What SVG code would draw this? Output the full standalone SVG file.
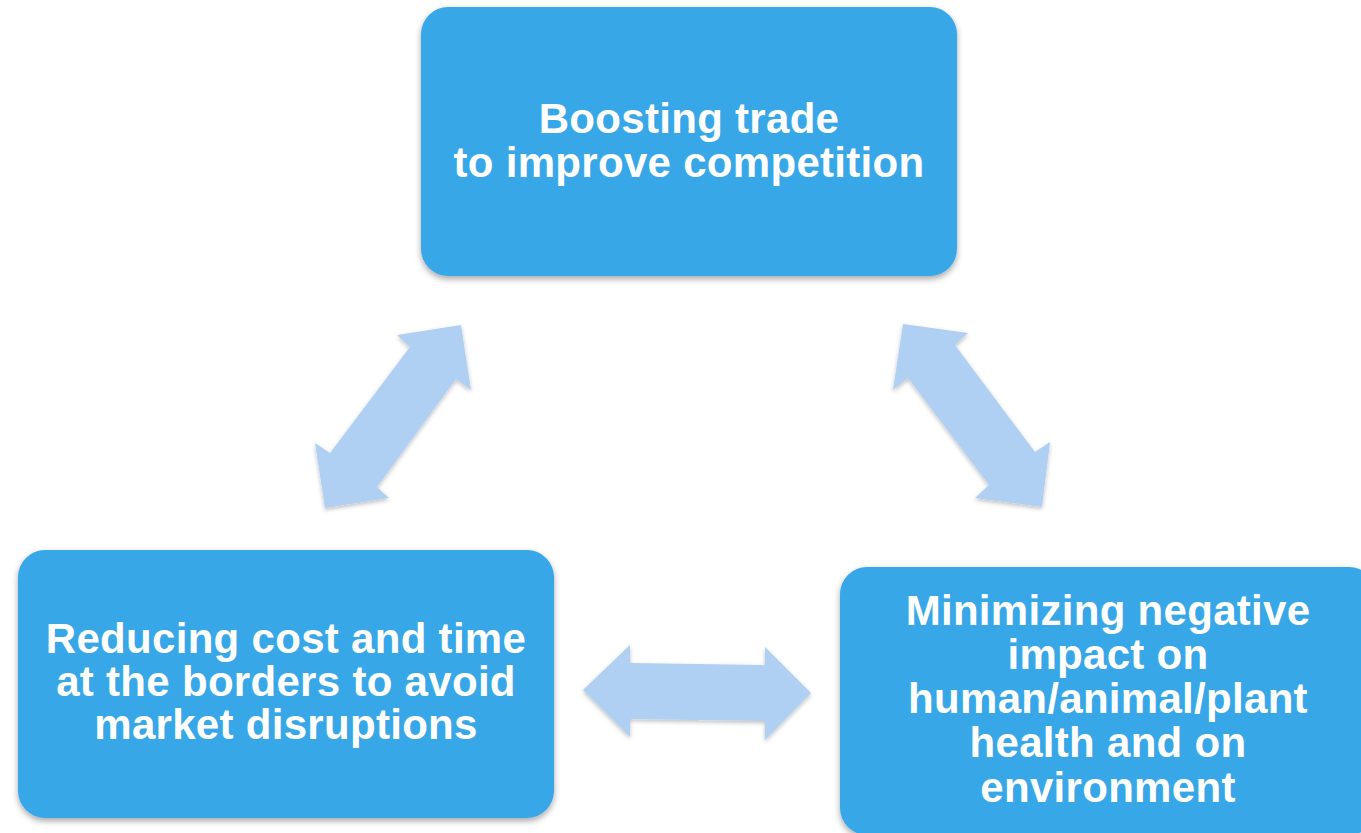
<svg xmlns="http://www.w3.org/2000/svg" width="1361" height="833" viewBox="0 0 1361 833">
  <style>
    .box { fill: #38A7E8; filter: url(#boxShadow); }
    .arrow { fill: #AFD0F2; filter: url(#arrowShadow); }
    .label { font-family: "Liberation Sans", Arial, sans-serif; font-weight: bold; font-size: 42px; letter-spacing: 0.3px; fill: #FFFFFF; text-anchor: middle; }
  </style>
  <defs>
    <filter id="boxShadow" x="-10%" y="-10%" width="120%" height="125%">
      <feDropShadow dx="0" dy="3" stdDeviation="3" flood-color="#000000" flood-opacity="0.35"/>
    </filter>
    <filter id="arrowShadow" x="-20%" y="-20%" width="140%" height="140%">
      <feDropShadow dx="0" dy="2" stdDeviation="2" flood-color="#000000" flood-opacity="0.25"/>
    </filter>
  </defs>
  <rect width="1361" height="833" fill="#FFFFFF"/>

  <!-- double-headed arrows linking the three goals -->
  <g id="connectors">
    <polygon class="arrow" points="461,325 471,390 456,379 377,487 389,498 325,508 315,443 330,453 410,347 397,335"/>
    <polygon class="arrow" points="903,324 968,333 955,345 1035,452 1050,442 1042,507 975,498 989,485 908,378 893,390"/>
    <polygon class="arrow" points="583,690 630,645 630,663 765,665 765,647 811,693 765,740 765,721 630,719 630,737"/>
  </g>

  <g id="node-trade">
    <rect class="box" x="421" y="7" width="536" height="269" rx="27" ry="27"/>
    <text class="label" x="689" y="133">Boosting trade</text>
    <text class="label" x="689" y="177">to improve competition</text>
  </g>

  <g id="node-borders">
    <rect class="box" x="18" y="550" width="536" height="268" rx="27" ry="27"/>
    <text class="label" x="286" y="653">Reducing cost and time</text>
    <text class="label" x="286" y="696">at the borders to avoid</text>
    <text class="label" x="286" y="739">market disruptions</text>
  </g>

  <g id="node-health">
    <rect class="box" x="840" y="567" width="536" height="268" rx="27" ry="27"/>
    <text class="label" x="1108" y="625">Minimizing negative</text>
    <text class="label" x="1108" y="669">impact on</text>
    <text class="label" x="1108" y="713">human/animal/plant</text>
    <text class="label" x="1108" y="757">health and on</text>
    <text class="label" x="1108" y="802">environment</text>
  </g>
</svg>
